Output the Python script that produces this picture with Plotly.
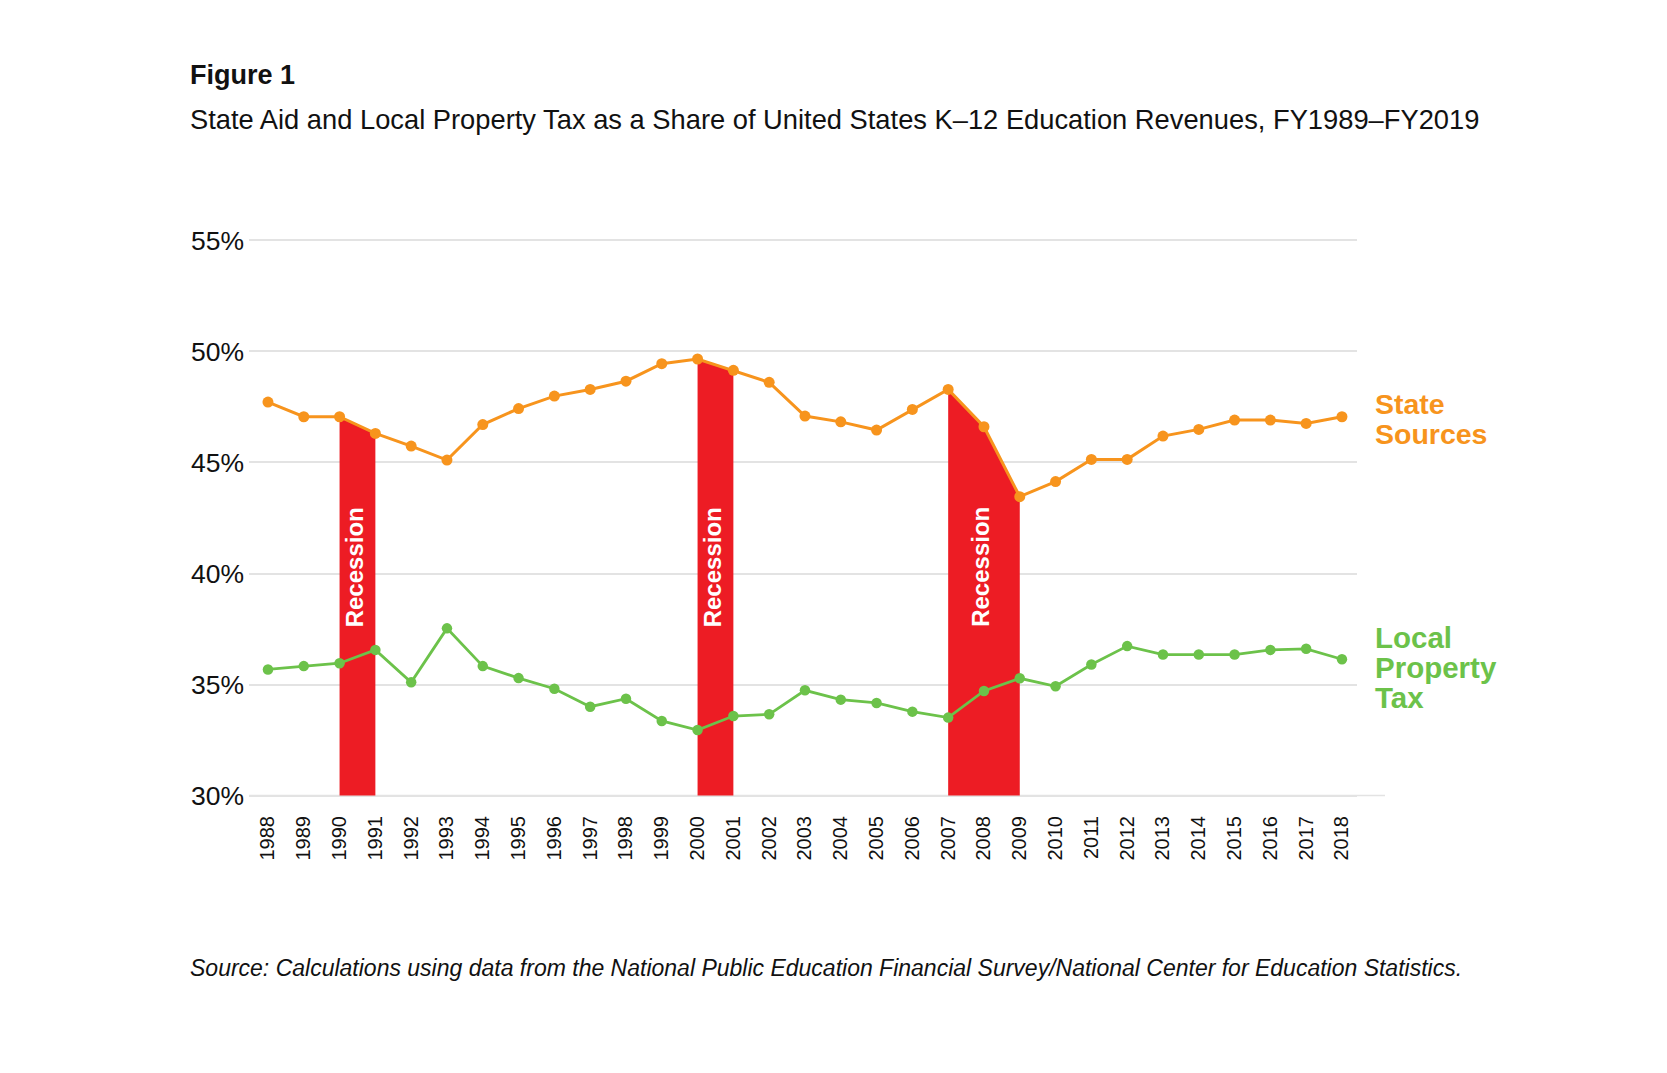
import plotly.graph_objects as go

years = list(range(1988, 2019))
state_sources = [47.72, 47.06, 47.06, 46.31, 45.74, 45.11, 46.71, 47.43, 47.99, 48.29,
                 48.66, 49.45, 49.66, 49.15, 48.61, 47.09, 46.83, 46.46, 47.39, 48.29,
                 46.61, 43.46, 44.14, 45.14, 45.14, 46.19, 46.49, 46.91, 46.91, 46.76, 47.06]
local_property_tax = [35.68, 35.83, 35.96, 36.56, 35.10, 37.53, 35.83, 35.29, 34.81, 34.00,
                      34.36, 33.36, 32.95, 33.58, 33.66, 34.74, 34.32, 34.17, 33.78, 33.51,
                      34.71, 35.28, 34.92, 35.90, 36.73, 36.35, 36.35, 36.35, 36.56, 36.61, 36.14]
recessions = [(1990, 1991), (2000, 2001), (2007, 2009)]
y_ticks = [30, 35, 40, 45, 50, 55]
y_tick_labels = ["30%", "35%", "40%", "45%", "50%", "55%"]
BASE = 30

ORANGE = "#F7941D"
GREEN = "#6CC24A"
RED = "#ED1C24"
FONT = "Liberation Sans"

W, H = 1667, 1073
ML, MR, MT, MB = 240.5, 317.5, 228, 281
PW = W - ML - MR
PH = H - MT - MB
DX, DY = -10.5, -8


def px_x(px):
    return (px + DX - ML) / PW


def px_y(py):
    return (H - MB - (py + DY)) / PH


fig = go.Figure()

# recession shading under the state line, down to the 30% baseline
for a, b in recessions:
    xs = [y for y in years if a <= y <= b]
    ys = [state_sources[years.index(y)] for y in xs]
    fig.add_trace(go.Scatter(x=xs, y=[BASE] * len(xs), mode="lines",
                             line=dict(width=0, color=RED),
                             hoverinfo="skip", showlegend=False))
    fig.add_trace(go.Scatter(x=xs, y=ys, mode="lines", fill="tonexty",
                             fillcolor=RED, line=dict(width=0, color=RED),
                             hoverinfo="skip", showlegend=False))

fig.add_trace(go.Scatter(x=years, y=local_property_tax, mode="lines+markers",
                         line=dict(color=GREEN, width=2.8),
                         marker=dict(color=GREEN, size=10.5),
                         showlegend=False, name="Local Property Tax"))
fig.add_trace(go.Scatter(x=years, y=state_sources, mode="lines+markers",
                         line=dict(color=ORANGE, width=3),
                         marker=dict(color=ORANGE, size=11),
                         showlegend=False, name="State Sources"))

for a, b in recessions:
    fig.add_annotation(x=(a + b) / 2, y=40.3, xref="x", yref="y", text="Recession",
                       textangle=-90, showarrow=False, xshift=-3,
                       font=dict(family=FONT, size=24, color="white", weight=700))

# extended baseline
fig.add_shape(type="line", xref="paper", yref="y", x0=0, x1=px_x(1388), y0=30, y1=30,
              line=dict(color="#E3E3E3", width=1.5), layer="below")

texts = [
    ("Figure 1", 190, 75, 27, "#111111", 700, "normal"),
    ("State Aid and Local Property Tax as a Share of United States K\u201312 Education Revenues, FY1989\u2013FY2019",
     190, 119, 27.3, "#111111", 400, "normal"),
    ("Source: Calculations using data from the National Public Education Financial Survey/National Center for Education Statistics.",
     190, 968, 23, "#111111", 400, "italic"),
    ("State", 1376, 404, 28.5, ORANGE, 700, "normal"),
    ("Sources", 1376, 434, 28.5, ORANGE, 700, "normal"),
    ("Local", 1376, 637, 29.5, GREEN, 700, "normal"),
    ("Property", 1376, 667, 29.5, GREEN, 700, "normal"),
    ("Tax", 1376, 697, 29.5, GREEN, 700, "normal"),
]
for t, x, y, s, c, w, st in texts:
    fig.add_annotation(x=px_x(x), y=px_y(y), xref="paper", yref="paper", text=t,
                       showarrow=False, xanchor="left", yanchor="middle",
                       font=dict(family=FONT, size=s, color=c, weight=w, style=st))

fig.update_layout(
    width=W, height=H,
    margin=dict(l=ML, r=MR, t=MT, b=MB, pad=0),
    paper_bgcolor="white", plot_bgcolor="white",
    font=dict(family=FONT, color="#111111"),
    xaxis=dict(range=[1987.47, 2018.42], tickvals=years, ticktext=[str(y) for y in years],
               tickangle=-90, showgrid=False, zeroline=False, showline=False,
               ticks="", ticklabelstandoff=11,
               tickfont=dict(family=FONT, size=20, color="#111111")),
    yaxis=dict(range=[29.8, 55.2], tickvals=y_ticks, ticktext=y_tick_labels,
               showgrid=True, gridcolor="#E3E3E3", gridwidth=1.5, zeroline=False,
               showline=False, ticks="", ticklabelstandoff=4,
               tickfont=dict(family=FONT, size=26.5, color="#111111")),
)

fig.write_html("out.html")
